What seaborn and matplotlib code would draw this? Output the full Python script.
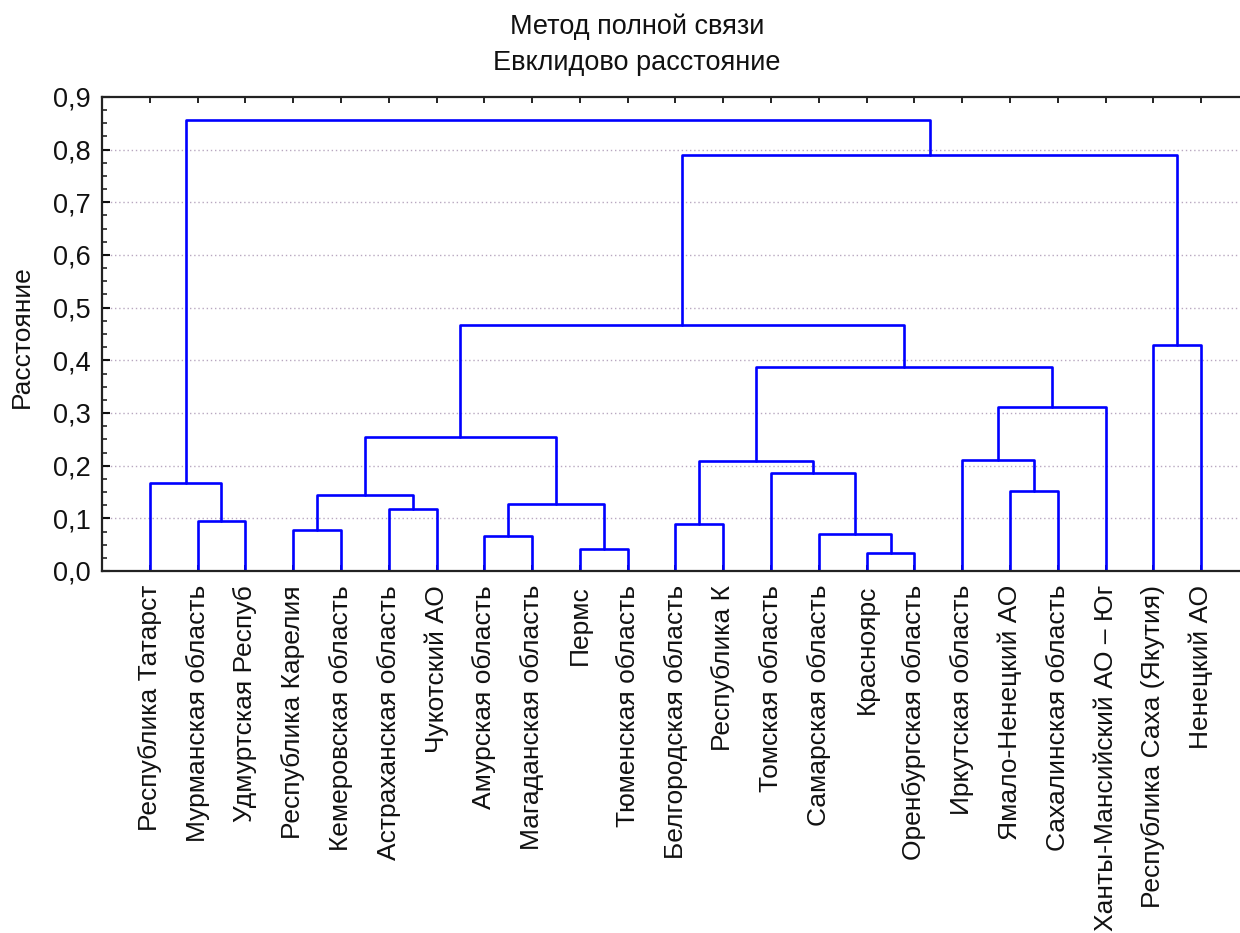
import numpy as np
import pandas as pd
import matplotlib
matplotlib.use("Agg")
import matplotlib.pyplot as plt
from matplotlib.ticker import MultipleLocator, FixedLocator
import seaborn as sns

# ---- data ----
leaves = [
    "Республика Татарст", "Мурманская область", "Удмуртская Респуб",
    "Республика Карелия", "Кемеровская область", "Астраханская область",
    "Чукотский АО", "Амурская область", "Магаданская область", "Пермс",
    "Тюменская область", "Белгородская область", "Республика К",
    "Томская область", "Самарская область", "Красноярс",
    "Оренбургская область", "Иркутская область", "Ямало-Ненецкий АО",
    "Сахалинская область", "Ханты-Мансийский АО – Юг",
    "Республика Саха (Якутия)", "Ненецкий АО",
]
# merges: ids < 23 are leaves, id 23+k is the k-th merge
merge_left = [15, 9, 7, 14, 3, 11, 1, 5, 25, 27, 18, 0, 13, 28, 17, 32, 37, 36, 21, 38, 42, 34]
merge_right = [16, 10, 8, 23, 4, 12, 2, 6, 24, 30, 19, 29, 26, 35, 33, 31, 20, 39, 22, 40, 41, 43]
merge_height = [0.035, 0.042, 0.066, 0.070, 0.078, 0.089, 0.094, 0.117, 0.128, 0.144,
                0.152, 0.168, 0.187, 0.208, 0.211, 0.254, 0.312, 0.387, 0.429, 0.468,
                0.789, 0.856]
y_ticks = [0.0, 0.1, 0.2, 0.3, 0.4, 0.5, 0.6, 0.7, 0.8, 0.9]
y_tick_labels = ["0,0", "0,1", "0,2", "0,3", "0,4", "0,5", "0,6", "0,7", "0,8", "0,9"]
title_lines = ["Метод полной связи", "Евклидово расстояние"]
y_label = "Расстояние"

# ---- build dendrogram segments from the tree ----
n = len(leaves)
pos = {i: float(i) for i in range(n)}
hgt = {i: 0.0 for i in range(n)}
rows = []
for k, (a, b, h) in enumerate(zip(merge_left, merge_right, merge_height)):
    node = n + k
    xs = [pos[a], pos[a], pos[b], pos[b]]
    ys = [hgt[a], h, h, hgt[b]]
    for order, (x, y) in enumerate(zip(xs, ys)):
        rows.append({"seg": k, "order": order, "x": x, "y": y})
    pos[node] = (pos[a] + pos[b]) / 2
    hgt[node] = h
segs = pd.DataFrame(rows)

sns.set_theme(style="white")
plt.rcParams["font.family"] = ["Liberation Sans", "DejaVu Sans"]

W, H = 1240, 933
fig = plt.figure(figsize=(W / 100, H / 100), dpi=100)
ax = fig.add_axes([102 / W, 1 - 571 / H, (1249 - 102) / W, (571 - 97) / H])

sns.lineplot(data=segs, x="x", y="y", units="seg", estimator=None, sort=False,
             color="#0000ff", linewidth=1.9, ax=ax, legend=False)

ax.set_xlim(-1, 23)
ax.set_ylim(0, 0.9)

for yv in y_ticks[1:-1]:
    ax.axhline(yv, color="#b8a8c0", linestyle=(0, (1, 2)), linewidth=1.0, zorder=0)

ax.yaxis.set_major_locator(FixedLocator(y_ticks))
ax.set_yticklabels(y_tick_labels)
ax.yaxis.set_minor_locator(MultipleLocator(0.025))
ax.set_xticks(range(n))
ax.set_xticklabels(leaves, rotation=90)
ax.set_xlabel("")
ax.set_ylabel("")

ax.tick_params(axis="y", which="major", direction="in", length=6, width=1.5,
               left=True, right=False, labelsize=19.5, pad=8, colors="#111111")
ax.tick_params(axis="y", which="minor", direction="in", length=3.5, width=1.2,
               left=True, right=False)
ax.tick_params(axis="x", which="major", direction="in", length=4, width=1.3,
               bottom=True, top=True, labelsize=19, pad=10, colors="#111111")

for side in ["left", "top", "bottom"]:
    ax.spines[side].set_color("#222222")
    ax.spines[side].set_linewidth(1.6)
ax.spines["right"].set_visible(False)
ax.grid(False)

fig.text(637 / W, 1 - 27 / H, title_lines[0], ha="center", va="center", fontsize=19.5, color="#111111")
fig.text(637 / W, 1 - 63 / H, title_lines[1], ha="center", va="center", fontsize=19.5, color="#111111")
fig.text(22 / W, 1 - 337 / H, y_label, ha="center", va="center", rotation=90, fontsize=19, color="#111111")

fig.savefig("out.png", dpi=100)
